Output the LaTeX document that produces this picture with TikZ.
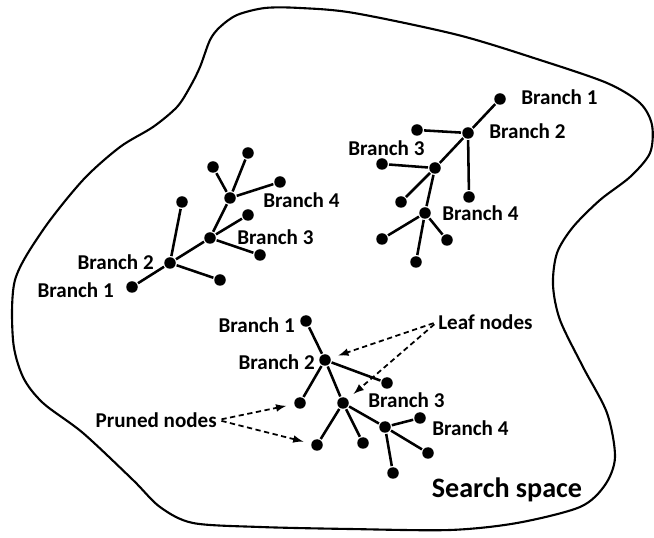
\documentclass[tikz,border=0pt]{standalone}
\usepackage{fontspec}
\setmainfont{Carlito}
\begin{document}
\begin{tikzpicture}[>=latex,line width=1.45pt,
  dot/.style={circle,fill,inner sep=0pt,minimum size=0.23cm},
  lbl/.style={inner sep=0pt,font=\bfseries\fontsize{12}{14}\selectfont},
  pointer/.style={->,densely dashed,line width=1pt,shorten <=2pt,shorten >=4pt}]
\useasboundingbox (0,0) rectangle (13.08,10.74);

% the search space
\draw[line width=1.2pt] plot[smooth cycle] coordinates {
  (4.74,10.44) (5.30,10.58) (6.00,10.58) (7.08,10.48) (9.16,10.04)
  (10.80,9.54) (12.14,9.08) (12.80,8.68) (13.04,8.24) (13.00,7.68)
  (12.60,7.20) (12.00,6.74) (11.46,6.20) (11.14,5.68) (11.06,5.04)
  (11.20,4.34) (11.66,3.40) (12.14,2.48) (12.30,1.60) (12.10,1.04)
  (11.60,0.60) (10.34,0.28) (9.00,0.14) (7.00,0.16) (5.20,0.20)
  (3.86,0.28) (3.20,0.60) (2.66,1.14) (1.66,2.08) (0.86,2.68)
  (0.46,3.20) (0.26,3.94) (0.30,5.14) (0.86,6.14) (1.66,7.14)
  (2.40,7.80) (3.06,8.20) (3.54,8.60) (3.80,9.00) (4.00,9.40)
  (4.20,9.94) (4.40,10.20)};
\node[lbl,font=\bfseries\fontsize{16}{18}\selectfont] (space) at (10.14,0.94) {Search space};

% left tree
\node[dot] (a1) at (2.64,5.00) {};
\node[dot] (a2) at (3.40,5.48) {};
\node[dot] (a3) at (4.20,5.98) {};
\node[dot] (a4) at (4.60,6.78) {};
\node[dot] (a2u) at (3.64,6.70) {};
\node[dot] (a2d) at (4.40,5.14) {};
\node[dot] (a3u) at (4.96,6.44) {};
\node[dot] (a3d) at (5.20,5.64) {};
\node[dot] (a4l) at (4.26,7.40) {};
\node[dot] (a4u) at (4.96,7.68) {};
\node[dot] (a4r) at (5.60,7.10) {};
\draw (a1) -- (a2) -- (a3) -- (a4);
\draw (a2) -- (a2u) (a2) -- (a2d);
\draw (a3) -- (a3u) (a3) -- (a3d);
\draw (a4) -- (a4l) (a4) -- (a4u) (a4) -- (a4r);
\node[lbl] (la1) at (2.30,4.94) [anchor=east] {Branch 1};
\node[lbl] (la2) at (3.10,5.50) [anchor=east] {Branch 2};
\node[lbl] (la3) at (4.72,6.00) [anchor=west] {Branch 3};
\node[lbl] (la4) at (5.24,6.74) [anchor=west] {Branch 4};

% right tree
\node[dot] (b1) at (10.00,8.76) {};
\node[dot] (b2) at (9.36,8.08) {};
\node[dot] (b3) at (8.70,7.38) {};
\node[dot] (b4) at (8.50,6.48) {};
\node[dot] (b2l) at (8.34,8.14) {};
\node[dot] (b2d) at (9.38,6.80) {};
\node[dot] (b3l) at (7.64,7.46) {};
\node[dot] (b3d) at (8.02,6.70) {};
\node[dot] (b4l) at (7.64,5.96) {};
\node[dot] (b4d) at (8.32,5.50) {};
\node[dot] (b4r) at (8.94,5.94) {};
\draw (b1) -- (b2) -- (b3) -- (b4);
\draw (b2) -- (b2l) (b2) -- (b2d);
\draw (b3) -- (b3l) (b3) -- (b3d);
\draw (b4) -- (b4l) (b4) -- (b4d) (b4) -- (b4r);
\node[lbl] (lb1) at (10.40,8.80) [anchor=west] {Branch 1};
\node[lbl] (lb2) at (9.76,8.12) [anchor=west] {Branch 2};
\node[lbl] (lb3) at (6.94,7.78) [anchor=west] {Branch 3};
\node[lbl] (lb4) at (8.82,6.48) [anchor=west] {Branch 4};

% bottom tree, with two pruned leaves
\node[dot] (c1) at (6.12,4.32) {};
\node[dot] (c2) at (6.50,3.54) {};
\node[dot] (c3) at (6.86,2.68) {};
\node[dot] (c4) at (7.70,2.20) {};
\node[dot] (cp1) at (6.00,2.68) {};
\node[dot] (c2r) at (7.74,3.08) {};
\node[dot] (cp2) at (6.34,1.84) {};
\node[dot] (c3d) at (7.26,1.88) {};
\node[dot] (c4r) at (8.40,2.38) {};
\node[dot] (c4d) at (8.56,1.68) {};
\node[dot] (c4b) at (7.86,1.28) {};
\draw (c1) -- (c2) -- (c3) -- (c4);
\draw (c2) -- (cp1) (c2) -- (c2r);
\draw (c3) -- (cp2) (c3) -- (c3d);
\draw (c4) -- (c4r) (c4) -- (c4d) (c4) -- (c4b);
\node[lbl] (lc1) at (5.92,4.24) [anchor=east] {Branch 1};
\node[lbl] (lc2) at (6.32,3.50) [anchor=east] {Branch 2};
\node[lbl] (lc3) at (7.34,2.74) [anchor=west] {Branch 3};
\node[lbl] (lc4) at (8.62,2.18) [anchor=west] {Branch 4};

% callouts
\node[lbl] (leaf) at (8.74,4.30) [anchor=west] {Leaf nodes};
\node[lbl] (pruned) at (4.36,2.34) [anchor=east] {Pruned nodes};
\draw[pointer] (leaf.west) -- (c2);
\draw[pointer] (leaf.west) -- (c3);
\draw[pointer] (pruned.east) -- (cp1);
\draw[pointer] (pruned.east) -- (cp2);
\end{tikzpicture}
\end{document}
